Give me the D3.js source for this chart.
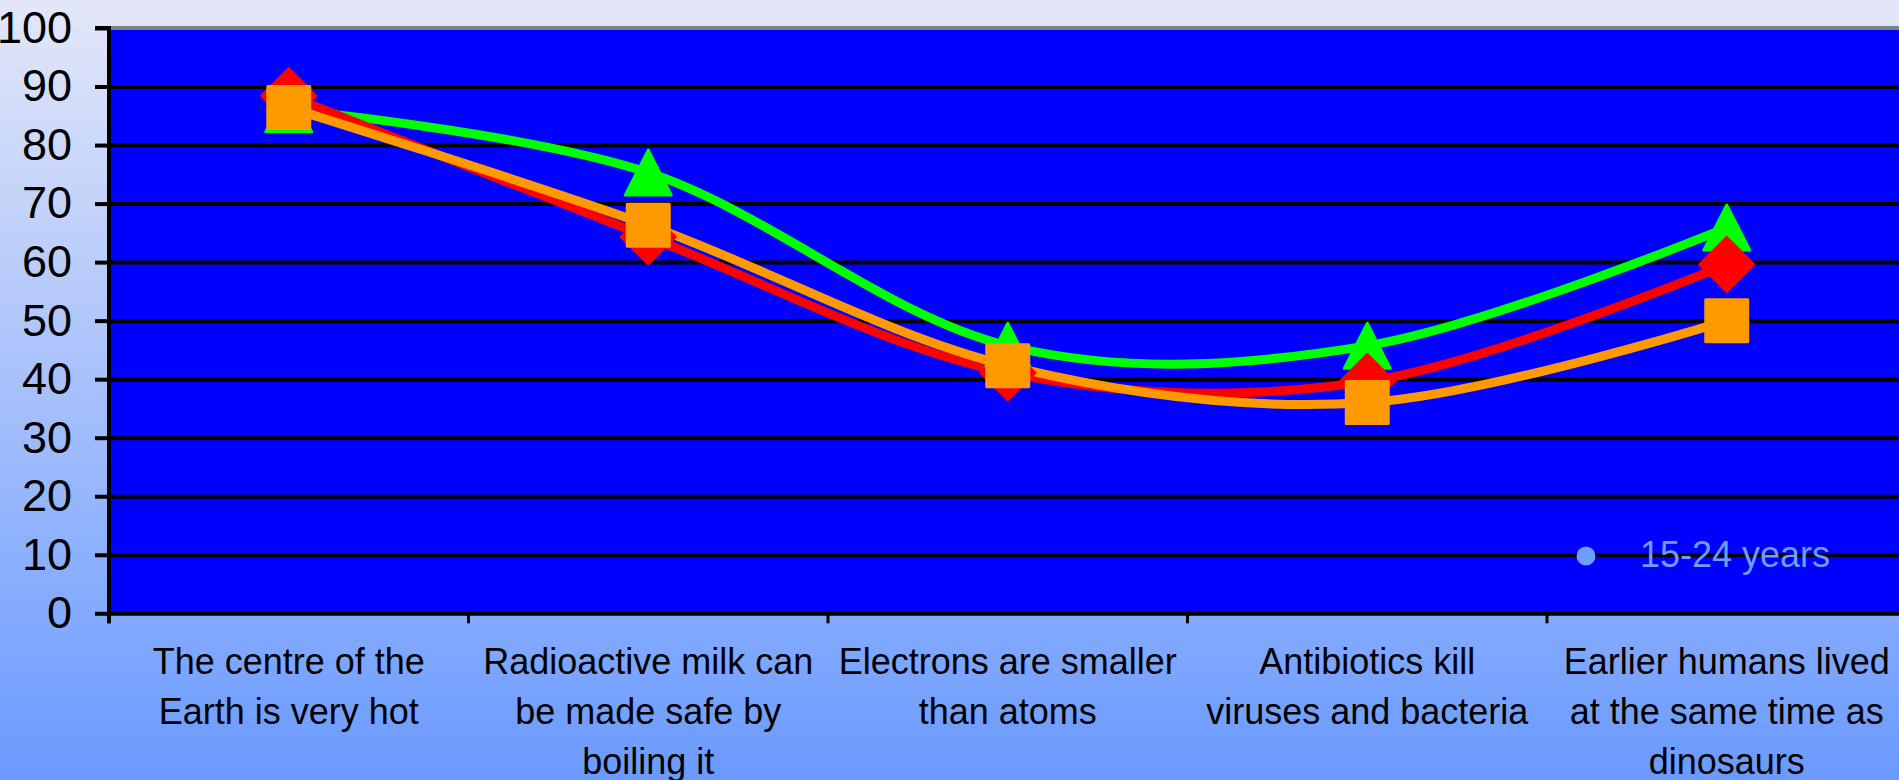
<!DOCTYPE html>
<html>
<head>
<meta charset="utf-8">
<script src="https://cdn.jsdelivr.net/npm/d3@7"></script>
<style>
  html, body { margin: 0; padding: 0; overflow: hidden; }
  svg { display: block; }
</style>
</head>
<body>
<svg id="chart" width="1899" height="780"></svg>
<script>
// ---- Data ----
const categories = [
  ["The centre of the", "Earth is very hot"],
  ["Radioactive milk can", "be made safe by", "boiling it"],
  ["Electrons are smaller", "than atoms"],
  ["Antibiotics kill", "viruses and bacteria"],
  ["Earlier humans lived", "at the same time as", "dinosaurs"]
];
const seriesGreen  = [86.1, 75.3, 45.7, 45.7, 65.9];
const seriesRed    = [88.4, 64.3, 41.1, 39.6, 59.6];
const seriesOrange = [86.4, 66.3, 42.3, 36.0, 50.0];
const yTicks = [0, 10, 20, 30, 40, 50, 60, 70, 80, 90, 100];
const legendLabel = "15-24 years";

// ---- Layout ----
const W = 1899, H = 780;
const plotLeft = 109, plotTop = 28, plotBottom = 613.3;
const band = 359.5;
const plotRight = plotLeft + band * categories.length;

const svg = d3.select("#chart");
const defs = svg.append("defs");
const grad = defs.append("linearGradient").attr("id", "bg")
  .attr("x1", 0).attr("y1", 0).attr("x2", 0).attr("y2", 1);
grad.append("stop").attr("offset", "0%").attr("stop-color", "#e3e7f8");
grad.append("stop").attr("offset", "100%").attr("stop-color", "#6a9aff");

svg.append("rect").attr("width", W).attr("height", H).attr("fill", "url(#bg)");

const x = d3.scaleBand().domain(d3.range(categories.length))
  .range([plotLeft, plotRight]).padding(0);
const y = d3.scaleLinear().domain([0, 100]).range([plotBottom, plotTop]);

// plot area
svg.append("rect")
  .attr("x", plotLeft).attr("y", y(100))
  .attr("width", plotRight - plotLeft).attr("height", y(0) - y(100))
  .attr("fill", "#0000ff");

// y axis with gridlines
const yAxisG = svg.append("g").attr("transform", `translate(${plotLeft},0)`)
  .call(d3.axisLeft(y).tickValues(yTicks).tickSize(14).tickPadding(23).tickFormat(d3.format("d")));
yAxisG.select(".domain").remove();
yAxisG.selectAll(".tick line").attr("stroke", "#000").attr("stroke-width", 4);
yAxisG.selectAll(".tick text")
  .attr("font-family", "Arial, 'Liberation Sans', sans-serif")
  .attr("font-size", 45).attr("fill", "#000");

const gridG = svg.append("g").attr("transform", `translate(${plotLeft},0)`)
  .call(d3.axisLeft(y).tickValues(yTicks.filter(v => v < 100)).tickSize(-(plotRight - plotLeft)).tickFormat(""));
gridG.select(".domain").remove();
gridG.selectAll(".tick line").attr("stroke", "#000").attr("stroke-width", 4);

// top border of plot (gray)
svg.append("line")
  .attr("x1", plotLeft).attr("x2", plotRight)
  .attr("y1", y(100)).attr("y2", y(100))
  .attr("stroke", "#808080").attr("stroke-width", 4);
// left tick for 100
svg.append("line")
  .attr("x1", plotLeft - 14).attr("x2", plotLeft)
  .attr("y1", y(100)).attr("y2", y(100))
  .attr("stroke", "#000").attr("stroke-width", 4);

// x axis ticks at category boundaries
const boundaries = d3.range(categories.length + 1);
const xb = d3.scaleLinear().domain([0, categories.length]).range([plotLeft, plotRight]);
svg.append("g").selectAll("line").data(boundaries).join("line")
  .attr("x1", d => xb(d)).attr("x2", d => xb(d))
  .attr("y1", plotBottom).attr("y2", plotBottom + 10)
  .attr("stroke", "#000").attr("stroke-width", 3);

// y axis line
svg.append("line")
  .attr("x1", plotLeft).attr("x2", plotLeft)
  .attr("y1", y(100) - 2).attr("y2", plotBottom + 10)
  .attr("stroke", "#000").attr("stroke-width", 4);

// category labels
const labelG = svg.append("g")
  .attr("font-family", "Arial, 'Liberation Sans', sans-serif")
  .attr("font-size", 36).attr("fill", "#000").attr("text-anchor", "middle");
categories.forEach((lines, i) => {
  const t = labelG.append("text").attr("x", x(i) + x.bandwidth() / 2);
  lines.forEach((ln, j) => {
    t.append("tspan").attr("x", x(i) + x.bandwidth() / 2)
      .attr("y", 674 + j * 50).text(ln);
  });
});

// legend (partial, as in reference)
svg.append("circle").attr("cx", 1586).attr("cy", 556).attr("r", 9.5).attr("fill", "#6f9dfb");
svg.append("text").attr("x", 1640).attr("y", 567)
  .attr("font-family", "Arial, 'Liberation Sans', sans-serif")
  .attr("font-size", 36).attr("fill", "#6f9dfb").text(legendLabel);

// series
const series = [
  { values: seriesGreen, color: "#00ff00", shape: "triangle" },
  { values: seriesRed, color: "#ff0000", shape: "diamond" },
  { values: seriesOrange, color: "#ff9900", shape: "square" }
];
const cx = i => x(i) + x.bandwidth() / 2;
const line = d3.line().x((d, i) => cx(i)).y(d => y(d)).curve(d3.curveCardinal.tension(0));

const lineG = svg.append("g");
series.forEach(s => {
  lineG.append("path").attr("d", line(s.values))
    .attr("fill", "none").attr("stroke", s.color).attr("stroke-width", 9)
    .attr("stroke-linejoin", "round");
});

function markerPath(shape) {
  if (shape === "triangle") {
    const w = 46, h = 45;
    return `M0,${-h/2} L${w/2},${h/2} L${-w/2},${h/2} Z`;
  }
  if (shape === "diamond") {
    const r = 27;
    return `M0,${-r} L${r},0 L0,${r} L${-r},0 Z`;
  }
  const s = 21;
  return `M${-s},${-s} L${s},${-s} L${s},${s} L${-s},${s} Z`;
}
const markG = svg.append("g");
series.forEach(s => {
  markG.append("g").selectAll("path").data(s.values).join("path")
    .attr("transform", (d, i) => `translate(${cx(i)},${y(d)})`)
    .attr("d", markerPath(s.shape))
    .attr("fill", s.color).attr("stroke", s.color).attr("stroke-width", 3)
    .attr("stroke-linejoin", "round");
});
</script>
</body>
</html>
